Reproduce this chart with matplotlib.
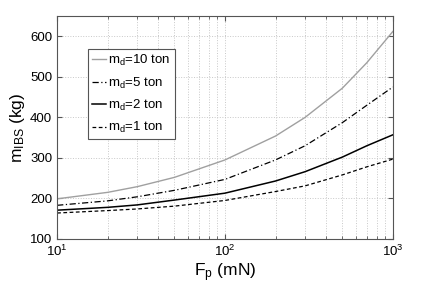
import matplotlib
matplotlib.use("Agg")
import matplotlib.pyplot as plt
from matplotlib.ticker import LogLocator, NullFormatter

plt.rcParams['font.family'] = ['Liberation Sans', 'DejaVu Sans']
plt.rcParams['mathtext.fontset'] = 'custom'
plt.rcParams['mathtext.rm'] = 'Liberation Sans'
plt.rcParams['mathtext.it'] = 'Liberation Sans'
plt.rcParams['mathtext.default'] = 'regular'

F = [10, 20, 30, 50, 100, 200, 300, 500, 700, 1000]
m10 = [199, 215, 229, 252, 295, 354, 400, 472, 535, 612]
m5 = [183, 194, 204, 220, 247, 295, 330, 387, 430, 475]
m2 = [171, 178, 184, 196, 213, 243, 266, 302, 330, 357]
m1 = [164, 170, 174, 181, 195, 217, 231, 258, 278, 297]
labels = [r'm$_\mathregular{d}$=10 ton', r'm$_\mathregular{d}$=5 ton',
          r'm$_\mathregular{d}$=2 ton', r'm$_\mathregular{d}$=1 ton']

fig = plt.figure(figsize=(4.36, 3.04), dpi=100)
ax = fig.add_axes([0.131, 0.214, 0.770, 0.733])

ax.plot(F, m10, color='#a0a0a0', lw=1.0, ls='-', label=labels[0])
ax.plot(F, m5, color='black', lw=0.9, ls=(0, (5, 2, 1, 2)), label=labels[1])
ax.plot(F, m2, color='black', lw=1.1, ls='-', label=labels[2])
ax.plot(F, m1, color='black', lw=0.9, ls=(0, (3, 2)), label=labels[3])

ax.set_xscale('log')
ax.set_xlim(10, 1000)
ax.set_ylim(100, 650)
ax.set_yticks([100, 200, 300, 400, 500, 600])
ax.xaxis.set_minor_locator(LogLocator(base=10, subs=range(2, 10)))
ax.xaxis.set_minor_formatter(NullFormatter())

ax.grid(True, which='major', ls=':', color='#c8c8c8', lw=0.7)
ax.grid(True, which='minor', axis='x', ls=':', color='#c8c8c8', lw=0.7)
ax.set_axisbelow(True)

ax.tick_params(which='both', direction='in', top=True, right=True, labelsize=9.5, colors='#555555', labelcolor='black')
ax.tick_params(which='major', length=3.5)
ax.tick_params(which='minor', length=2)
for s in ax.spines.values():
    s.set_color('#555555')
    s.set_linewidth(0.8)

ax.set_xlabel(r'F$_\mathregular{p}$ (mN)', fontsize=12.5, labelpad=2)
ax.set_ylabel(r'm$_\mathregular{IBS}$ (kg)', fontsize=12.5, labelpad=2)

leg = ax.legend(loc='upper left', bbox_to_anchor=(0.092, 0.852), fontsize=9.5,
                handlelength=1.1, handletextpad=0.15, borderpad=0.3,
                labelspacing=0.55, fancybox=False, framealpha=1, borderaxespad=0)
leg.get_frame().set_edgecolor('#555555')
leg.get_frame().set_linewidth(0.8)

fig.savefig('out.png', dpi=100)
